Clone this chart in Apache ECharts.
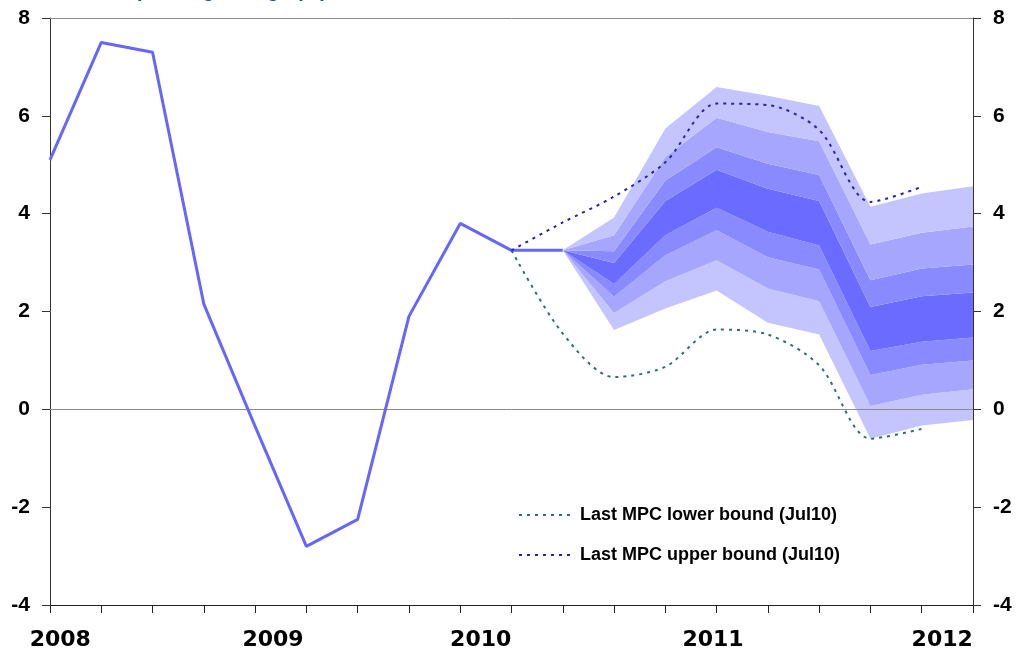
<!DOCTYPE html>
<html>
<head>
<meta charset="UTF-8">
<title>Spending fan chart</title>
<script src="https://cdn.jsdelivr.net/npm/echarts@6/dist/echarts.min.js"></script>
</head>
<body style="margin:0">
<div id="main" style="width:1017px;height:655px;"></div>
<script type="text/javascript">
// quarters, 2008 Q1 .. 2012 Q3
var quarters = [];
for (var y = 2008; y <= 2012; y++) {
    for (var q = 1; q <= 4; q++) {
        if (quarters.length < 19) quarters.push(y + ' Q' + q);
    }
}
var years = ['2008', '2009', '2010', '2011', '2012'];
var yearPos = [0.2, 4.35, 8.4, 12.93, 17.4];

// outturns
var outturn = [5.1, 7.5, 7.3, 2.15, -0.35, -2.8, -2.25, 1.9, 3.8, 3.25, 3.25, '-', '-', '-', '-', '-', '-', '-', '-'];
// previous MPC bounds (Jul10)
var lowerBound = ['-', '-', '-', '-', '-', '-', '-', '-', '-', 3.25, 1.55, 0.66, 0.87, 1.63, 1.53, 0.9, -0.6, -0.4, '-'];
var upperBound = ['-', '-', '-', '-', '-', '-', '-', '-', '-', 3.25, 3.82, 4.35, 5.05, 6.25, 6.22, 5.71, 4.24, 4.55, '-'];

// fan edges from quarter 10 onwards, bottom to top
var fanStart = 10;
var fanEdges = [
    [3.25, 1.62, 2.06, 2.43, 1.77, 1.53, -0.60, -0.33, -0.22],
    [3.25, 1.97, 2.62, 3.05, 2.47, 2.21, 0.07, 0.30, 0.41],
    [3.25, 2.30, 3.15, 3.66, 3.11, 2.86, 0.70, 0.91, 1.00],
    [3.25, 2.56, 3.56, 4.12, 3.63, 3.35, 1.19, 1.38, 1.47],
    [3.25, 2.99, 4.26, 4.90, 4.51, 4.26, 2.09, 2.31, 2.39],
    [3.25, 3.23, 4.68, 5.36, 5.02, 4.79, 2.64, 2.88, 2.96],
    [3.25, 3.56, 5.16, 5.96, 5.67, 5.48, 3.37, 3.61, 3.74],
    [3.25, 3.92, 5.74, 6.59, 6.41, 6.20, 4.14, 4.41, 4.56]
];
var bandColors = ['#c4c4ff', '#a6a6ff', '#8a8aff', '#6b6bff', '#8a8aff', '#a6a6ff', '#c4c4ff'];
var refLines = [0, 8];

function pad(arr) {
    var out = [];
    for (var i = 0; i < quarters.length; i++) {
        var j = i - fanStart;
        out.push(j >= 0 && j < arr.length ? arr[j] : '-');
    }
    return out;
}

var series = [];
series.push({
    name: 'base', type: 'line', stack: 'fan', stackStrategy: 'all',
    data: pad(fanEdges[0]), symbol: 'none', lineStyle: {opacity: 0}, silent: true
});
for (var k = 1; k < fanEdges.length; k++) {
    var diff = [];
    for (var m = 0; m < fanEdges[k].length; m++) {
        diff.push(+(fanEdges[k][m] - fanEdges[k - 1][m]).toFixed(3));
    }
    series.push({
        name: 'band' + k, type: 'line', stack: 'fan', stackStrategy: 'all',
        data: pad(diff), symbol: 'none',
        lineStyle: {width: 0, opacity: 0},
        areaStyle: {color: bandColors[k - 1], opacity: 1}
    });
}
series.push({
    name: 'outturn', type: 'line', data: outturn, symbol: 'none',
    lineStyle: {color: '#6666ff', width: 3}, itemStyle: {color: '#6666ff'}, z: 5
});
series.push({
    name: 'Last MPC lower bound (Jul10)', type: 'line', data: lowerBound, symbol: 'none', smooth: 0.3,
    lineStyle: {color: '#2f6e6e', width: 2, type: [3, 5]}, itemStyle: {color: '#2f6e6e'}, z: 6
});
series.push({
    name: 'Last MPC upper bound (Jul10)', type: 'line', data: upperBound, symbol: 'none', smooth: 0.3,
    lineStyle: {color: '#2222b0', width: 2, type: [3, 5]}, itemStyle: {color: '#2222b0'}, z: 6,
    markLine: {
        silent: true, symbol: 'none', label: {show: false},
        lineStyle: {color: '#8c8c8c', width: 1, type: 'solid'},
        data: refLines.map(function (v) { return {yAxis: v}; })
    }
});

var yAxisCommon = {
    type: 'value', min: -4, max: 8, interval: 2,
    axisLine: {show: true, lineStyle: {color: '#333', width: 1}},
    axisTick: {show: true, length: 8, lineStyle: {color: '#333'}},
    splitLine: {show: false},
    axisLabel: {fontFamily: 'Liberation Sans, Arial', fontWeight: 'bold', fontSize: 21, color: '#000', margin: 20}
};

var myChart = echarts.init(document.getElementById('main'));
var option = {
    animation: false,
    title: {
        text: 'Household spending change (%)',
        left: 12, top: -24,
        textStyle: {color: '#1f4f8f', fontSize: 20, fontWeight: 'bold', fontFamily: 'Liberation Sans, Arial'}
    },
    grid: {left: 50, right: 44, top: 18, bottom: 50},
    legend: {
        orient: 'vertical', left: 513, top: 501, itemGap: 22,
        itemWidth: 56, itemHeight: 10,
        itemStyle: {opacity: 0},
        data: ['Last MPC lower bound (Jul10)', 'Last MPC upper bound (Jul10)'],
        textStyle: {fontFamily: 'Liberation Sans, Arial', fontWeight: 'bold', fontSize: 18, color: '#000'}
    },
    xAxis: [{
        type: 'category', data: quarters, boundaryGap: false,
        axisLine: {onZero: false, lineStyle: {color: '#222', width: 1}},
        axisTick: {show: true, interval: 0, length: 8, lineStyle: {color: '#222'}},
        axisLabel: {show: false},
        splitLine: {show: false}
    }, {
        type: 'value', min: 0, max: quarters.length - 1, position: 'bottom',
        axisLine: {show: false, onZero: false}, axisTick: {show: false}, splitLine: {show: false},
        axisLabel: {
            customValues: yearPos, margin: 24,
            fontFamily: 'DejaVu Sans', fontWeight: 'bold', fontSize: 22, color: '#000',
            formatter: function (v) {
                var i = yearPos.indexOf(v);
                return i >= 0 ? years[i] : '';
            }
        }
    }],
    yAxis: [
        echarts.util.merge({position: 'left'}, yAxisCommon, true),
        echarts.util.merge({position: 'right'}, yAxisCommon, true)
    ],
    series: series
};
myChart.setOption(option);
</script>
</body>
</html>
